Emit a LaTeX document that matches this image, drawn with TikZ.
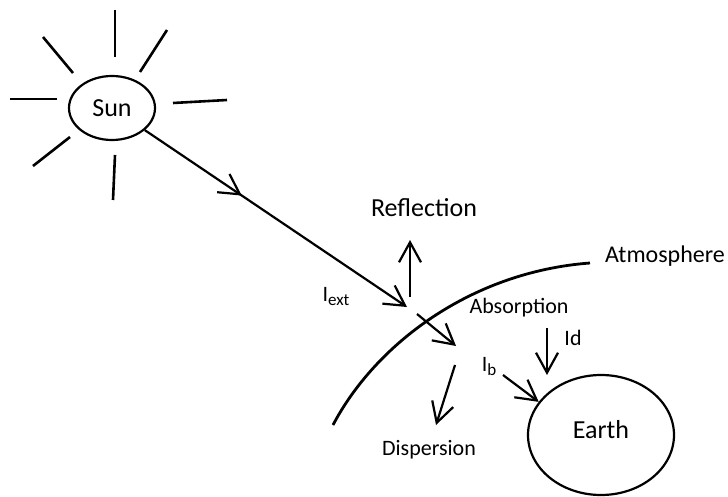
\documentclass[tikz,border=0pt]{standalone}
\usepackage{fontspec}
\setmainfont{Carlito}
\usetikzlibrary{arrows.meta,decorations.markings,positioning,shapes.geometric}
\newcommand{\lowtext}[1]{\raisebox{-4pt}{\fontsize{17}{17}\selectfont #1}}

\begin{document}
\begin{tikzpicture}[x=1pt,y=-1pt,>={Straight Barb[length=20pt,width=22pt]},line width=2.2pt,
    big/.style={font=\fontsize{26}{26}\selectfont},
    small/.style={font=\fontsize{22}{22}\selectfont},
    body/.style={draw,ellipse,inner sep=0pt,line width=2.2pt}]
  \useasboundingbox (0,0) rectangle (728,497);
  % sun and its rays
  \node[body,big,minimum width=86,minimum height=64] (sun) at (112,108) {Sun};
  \foreach \xa/\ya/\xb/\yb in {115/10/115/57, 43/37/73/73, 167/30/140/72, 10/99/57/99,
      173/103/227/100, 33/166/70/137, 115/155/113/200}
    \draw[line width=2.6pt] (\xa,\ya) -- (\xb,\yb);
  % atmosphere and earth
  \draw[line width=2.8pt] (333,425) .. controls (375,345) and (470,272) .. (590,263) coordinate (atm);
  \node[font=\fontsize{24}{24}\selectfont] (atmlabel) at (665,256) {Atmosphere};
  \node[body,big,minimum width=146,minimum height=120] (earth) at (601,435) {};
  \node[big] (earthlabel) at (601,430) {Earth};
  % incoming beam
  \coordinate (hit) at (407,307);
  \draw[->,decoration={markings,mark=at position 0.37 with {\arrow{>}}},postaction={decorate}]
       (sun) -- (hit);
  \node[small] (iext) at (336,297) {I\lowtext{ext}};
  % reflected part
  \coordinate (up0) at (410,297);
  \coordinate (up1) at (410,240);
  \draw[->] (up0) -- (up1);
  \node[big] (refl) at (424,208) {Reflection};
  % part that goes through
  \coordinate (in0) at (417,314);
  \coordinate (in1) at (456,346);
  \draw[->] (in0) -- (in1);
  \node[small] (absorb) at (519,308) {Absorption};
  \coordinate (dis0) at (455,365);
  \coordinate (dis1) at (436,425);
  \draw[->] (dis0) -- (dis1);
  \node[small] (disp) at (429,450) {Dispersion};
  % direct and diffuse
  \coordinate (d0) at (547,328);
  \coordinate (d1) at (547,375);
  \draw[->] (d0) -- (d1);
  \node[small] (id) at (573,338) {Id};
  \coordinate (b0) at (503,375);
  \draw[->] (b0) -- (earth.152);
  \node[small] (ib) at (489,366) {I\lowtext{b}};
\end{tikzpicture}
\end{document}
